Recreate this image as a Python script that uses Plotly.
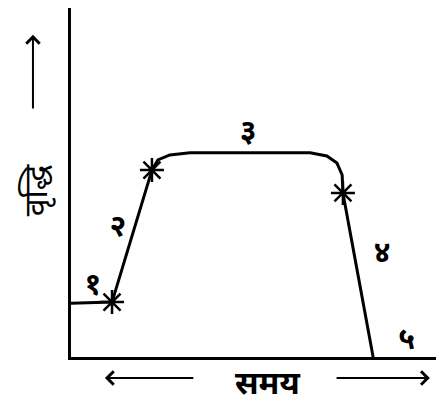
import plotly.graph_objects as go

# curve of growth against time (0-100 on both axes)
curve_x = [0, 11, 21.7, 23.3, 26.5, 31.9, 64.1, 68.6, 71.3, 72.7, 72.9, 81]
curve_y = [15.3, 15.6, 53.1, 56, 57.4, 58, 58, 57.1, 55.1, 51.7, 46.6, 0]

star_x = [11, 21.7, 72.9]
star_y = [15.6, 53.1, 46.6]

phase_labels = ["१", "२", "३", "४", "५"]
phase_x = [5.9, 12.6, 47.5, 83.4, 90]
phase_y = [19.9, 36.6, 63.6, 29, 4.3]

x_title = "समय"
y_title = "वृद्धि"

font_family = "Noto Sans, DejaVu Sans, sans-serif"

fig = go.Figure()

fig.add_trace(
    go.Scatter(
        x=curve_x,
        y=curve_y,
        mode="lines",
        line=dict(color="black", width=3),
        hoverinfo="skip",
    )
)

fig.add_trace(
    go.Scatter(
        x=star_x,
        y=star_y,
        mode="markers",
        marker=dict(
            symbol="asterisk-open", size=20, color="black",
            line=dict(color="black", width=2.5),
        ),
        hoverinfo="skip",
    )
)

fig.add_trace(
    go.Scatter(
        x=phase_x,
        y=phase_y,
        mode="text",
        text=["<b>" + t + "</b>" for t in phase_labels],
        textfont=dict(size=30, color="black", family=font_family),
        hoverinfo="skip",
    )
)


def arrow(x0, y0, x1, y1):
    # arrow from (x0, y0) to head at (x1, y1), in axis-domain units
    fig.add_annotation(
        x=x1, y=y1, ax=x0, ay=y0,
        xref="x domain", yref="y domain", axref="x domain", ayref="y domain",
        text="", showarrow=True, arrowhead=4, arrowsize=1.3,
        arrowwidth=2, arrowcolor="black",
    )


fig.add_annotation(
    x=0.528, y=-0.069, xref="x domain", yref="y domain",
    xanchor="center", yanchor="middle",
    text="<b>" + x_title + "</b>", showarrow=False,
    font=dict(size=32, color="black", family=font_family),
)
arrow(0.332, -0.06, 0.091, -0.06)
arrow(0.708, -0.06, 0.962, -0.06)

fig.add_annotation(
    x=-0.098, y=0.479, xref="x domain", yref="y domain",
    xanchor="center", yanchor="middle",
    text=y_title, showarrow=False, textangle=-90,
    font=dict(size=32, color="black", family=font_family),
)
arrow(-0.102, 0.708, -0.102, 0.923)

fig.update_xaxes(
    range=[0, 100], showgrid=False, zeroline=False, showticklabels=False,
    showline=True, linecolor="black", linewidth=3, ticks="",
)
fig.update_yaxes(
    range=[0, 99.15], showgrid=False, zeroline=False, showticklabels=False,
    showline=True, linecolor="black", linewidth=3, ticks="",
)

# the page body has an 8px margin, so the figure is sized to fit the window
fig.update_layout(
    width=436,
    height=394,
    showlegend=False,
    plot_bgcolor="white",
    paper_bgcolor="white",
    margin=dict(l=63, r=0, t=0, b=45),
)

fig.write_html("out.html")
